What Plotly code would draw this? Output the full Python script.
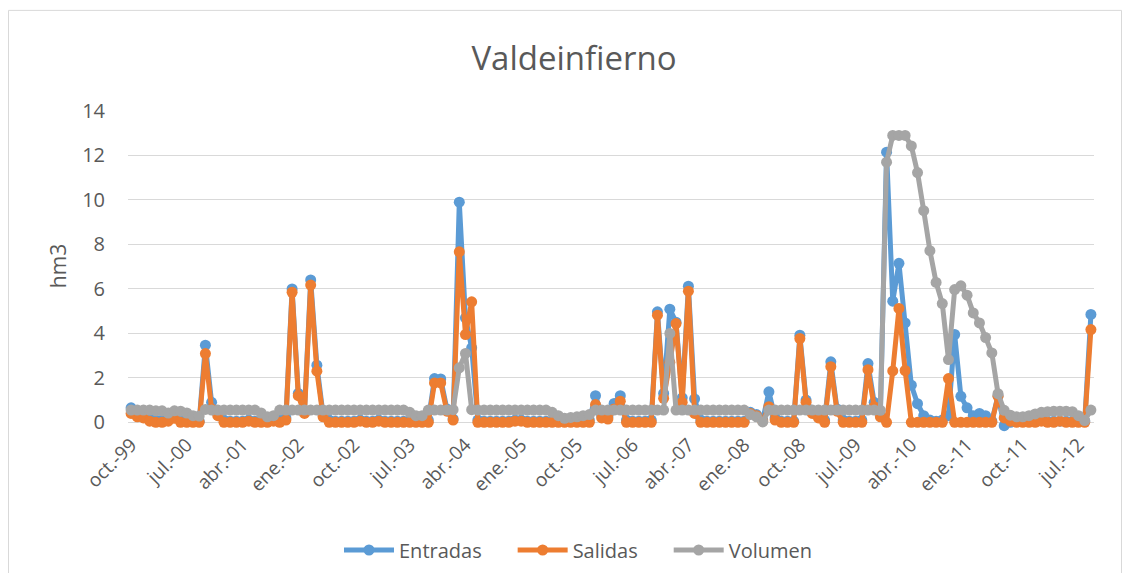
import plotly.graph_objects as go

# ---- data (monthly, oct-99 .. sep-12) ----
month_abbr = ["oct.", "nov.", "dic.", "ene.", "feb.", "mar.", "abr.", "may.", "jun.", "jul.", "ago.", "sep."]
start_year = 1999
n_years = 13

entradas = [
    0.65, 0.35, 0.3, 0.15, 0.1, 0.1, 0.15, 0.25, 0.1, 0.05, 0.05, 0.05,
    3.47, 0.9, 0.4, 0.1, 0.05, 0.05, 0.05, 0.1, 0.05, 0.05, 0.05, 0.1,
    0.1, 0.2, 6.0, 1.3, 0.5, 6.4, 2.57, 0.35, 0.1, 0.05, 0.05, 0.05,
    0.05, 0.1, 0.05, 0.05, 0.1, 0.05, 0.05, 0.05, 0.05, 0.05, 0.05, 0.05,
    0.1, 1.97, 1.95, 0.6, 0.15, 9.9, 4.7, 3.35, 0.1, 0.05, 0.05, 0.05,
    0.05, 0.05, 0.1, 0.1, 0.05, 0.05, 0.05, 0.05, 0.05, 0.05, 0.05, 0.05,
    0.05, 0.05, 0.1, 1.2, 0.3, 0.25, 0.85, 1.2, 0.1, 0.05, 0.05, 0.05,
    0.1, 4.97, 1.3, 5.09, 4.5, 1.1, 6.12, 1.05, 0.1, 0.05, 0.05, 0.05,
    0.05, 0.05, 0.05, 0.05, 0.45, 0.35, 0.1, 1.37, 0.2, 0.05, 0.05, 0.05,
    3.92, 1.0, 0.5, 0.3, 0.1, 2.72, 0.6, 0.1, 0.05, 0.05, 0.1, 2.64,
    0.9, 0.3, 12.15, 5.45, 7.15, 4.47, 1.67, 0.84, 0.3, 0.1, 0.05, 0.1,
    0.3, 3.95, 1.17, 0.65, 0.3, 0.4, 0.3, 0.05, 1.2, -0.15, 0.0, 0.05,
    0.05, 0.05, 0.05, 0.1, 0.05, 0.05, 0.05, 0.05, 0.05, 0.05, 0.05, 4.85,
]

salidas = [
    0.4, 0.25, 0.2, 0.05, 0, 0, 0.05, 0.18, 0, 0, 0, 0,
    3.09, 0.6, 0.3, 0, 0, 0, 0, 0.05, 0, 0, 0, 0.05,
    0, 0.1, 5.85, 1.2, 0.4, 6.17, 2.3, 0.25, 0, 0, 0, 0,
    0, 0.05, 0, 0, 0.05, 0, 0, 0, 0, 0, 0, 0,
    0, 1.77, 1.77, 0.5, 0.1, 7.67, 3.95, 5.42, 0, 0, 0, 0,
    0, 0, 0.05, 0.05, 0, 0, 0, 0, 0, 0, 0, 0,
    0, 0, 0, 0.8, 0.2, 0.15, 0.6, 0.95, 0, 0, 0, 0,
    0, 4.82, 1.08, 2.7, 4.44, 0.9, 5.9, 0.4, 0, 0, 0, 0,
    0, 0, 0, 0, 0.4, 0.3, 0.05, 0.7, 0.1, 0, 0, 0,
    3.77, 0.9, 0.4, 0.2, 0, 2.5, 0.5, 0, 0, 0, 0, 2.37,
    0.7, 0.25, 0, 2.31, 5.12, 2.33, 0, 0, 0, 0, 0, 0,
    1.97, 0, 0, 0, 0, 0, 0, 0, 1.17, 0.2, 0.05, 0,
    0, 0, 0, 0.05, 0, 0, 0.05, 0, 0, 0, 0, 4.17,
]

volumen = [
    0.55, 0.55, 0.55, 0.55, 0.52, 0.52, 0.42, 0.52, 0.5, 0.42, 0.3, 0.28,
    0.58, 0.55, 0.55, 0.55, 0.55, 0.55, 0.55, 0.55, 0.55, 0.42, 0.25, 0.3,
    0.55, 0.55, 0.55, 0.55, 0.55, 0.55, 0.55, 0.55, 0.55, 0.55, 0.55, 0.55,
    0.55, 0.55, 0.55, 0.55, 0.55, 0.55, 0.55, 0.55, 0.55, 0.45, 0.3, 0.3,
    0.55, 0.55, 0.55, 0.55, 0.57, 2.45, 3.1, 0.57, 0.55, 0.55, 0.55, 0.55,
    0.55, 0.55, 0.55, 0.55, 0.55, 0.55, 0.55, 0.55, 0.45, 0.3, 0.18, 0.22,
    0.25, 0.3, 0.35, 0.55, 0.55, 0.55, 0.55, 0.55, 0.55, 0.55, 0.55, 0.55,
    0.55, 0.55, 0.55, 4.0, 0.55, 0.55, 0.55, 0.55, 0.55, 0.55, 0.55, 0.55,
    0.55, 0.55, 0.55, 0.55, 0.35, 0.25, 0.02, 0.55, 0.55, 0.55, 0.55, 0.55,
    0.55, 0.55, 0.55, 0.55, 0.55, 0.55, 0.55, 0.55, 0.55, 0.55, 0.55, 0.55,
    0.55, 0.54, 11.7, 12.9, 12.9, 12.9, 12.43, 11.23, 9.52, 7.72, 6.29, 5.34,
    2.82, 5.97, 6.14, 5.72, 4.92, 4.47, 3.81, 3.12, 1.29, 0.54, 0.32, 0.25,
    0.25, 0.3, 0.38, 0.45, 0.48, 0.5, 0.5, 0.5, 0.48, 0.3, 0.08, 0.55,
]

series_names = ["Entradas", "Salidas", "Volumen"]

# category labels  e.g. "oct.-99"
months = []
for y in range(n_years):
    for k, m in enumerate(month_abbr):
        yr = start_year + y + (1 if k >= 3 else 0)
        months.append(f"{m}-{yr % 100:02d}")

tick_labels = months[::9]
y_ticks = [0, 2, 4, 6, 8, 10, 12, 14]

# ---- layout geometry (reference-page pixels; page body has an 8px margin) ----
OFF = 8
W, H = 1130 - 2 * OFF, 581 - 2 * OFF
L_ref, R_ref, T_ref = 128, 1094, 111
y_min, y_max = -0.3, 14.0
px_per_unit = (422 - 111) / 14.0
B_ref = T_ref + (y_max - y_min) * px_per_unit
L, R_px, T, B_px = L_ref - OFF, R_ref - OFF, T_ref - OFF, B_ref - OFF
pw = R_px - L
ph = B_px - T


def px2paper_x(px_ref):
    return (px_ref - OFF - L) / pw


def px2paper_y(py_ref):
    return (B_px - (py_ref - OFF)) / ph


text_color = "#595959"
font_family = "Open Sans, Noto Sans, Liberation Sans, sans-serif"
NBSP = "\u00a0"

fig = go.Figure()
series = [
    (series_names[0], entradas, "#5B9BD5", NBSP * 5),
    (series_names[1], salidas, "#ED7D31", NBSP * 5),
    (series_names[2], volumen, "#A5A5A5", ""),
]
for name, vals, col, pad in series:
    fig.add_trace(go.Scatter(
        x=months, y=vals, name=name + pad, mode="lines+markers",
        line=dict(color=col, width=5),
        marker=dict(color=col, size=11),
        cliponaxis=False,
    ))

border = "#D9D9D9"
bx0, bx1 = px2paper_x(8.5), px2paper_x(1121.5)
by_top, by_bot = px2paper_y(10.5), px2paper_y(581)

fig.update_layout(
    width=W, height=H,
    margin=dict(l=L, r=W - R_px, t=T, b=H - B_px, pad=0),
    paper_bgcolor="white", plot_bgcolor="white",
    font=dict(family=font_family, color=text_color, size=18),
    title=dict(text="Valdeinfierno", x=(574 - OFF) / W, xref="container", xanchor="center",
               y=1 - (58 - OFF) / H, yref="container", yanchor="middle",
               font=dict(size=33, color=text_color)),
    showlegend=True,
    legend=dict(orientation="h", x=(578 - OFF) / W, xref="container", xanchor="center",
                y=(H - (550 - OFF)) / H, yref="container", yanchor="middle",
                font=dict(size=20, color=text_color), itemwidth=50,
                traceorder="normal"),
    xaxis=dict(type="category", categoryorder="array", categoryarray=months,
               range=[-0.5, len(months) - 0.5],
               tickmode="array", tickvals=tick_labels, ticktext=tick_labels,
               tickangle=-45, showgrid=False, showline=False, zeroline=False,
               ticks="", tickfont=dict(size=19, color=text_color)),
    yaxis=dict(range=[y_min, y_max], tickmode="array", tickvals=y_ticks,
               showgrid=True, gridcolor=border, gridwidth=1.3,
               zeroline=False, showline=False, ticks="",
               ticklabelstandoff=22,
               tickfont=dict(size=20, color=text_color)),
    annotations=[dict(text="hm3", textangle=-90, x=px2paper_x(58), y=px2paper_y(266),
                      xref="paper", yref="paper", xanchor="center", yanchor="middle",
                      showarrow=False, font=dict(size=21, color=text_color))],
    shapes=[
        dict(type="line", xref="paper", yref="paper", x0=bx0, x1=bx0, y0=by_bot, y1=by_top,
             line=dict(color=border, width=1), layer="below"),
        dict(type="line", xref="paper", yref="paper", x0=bx0, x1=bx1, y0=by_top, y1=by_top,
             line=dict(color=border, width=1), layer="below"),
        dict(type="line", xref="paper", yref="paper", x0=bx1, x1=bx1, y0=by_bot, y1=by_top,
             line=dict(color=border, width=1), layer="below"),
    ],
)

fig.write_html("out.html")
